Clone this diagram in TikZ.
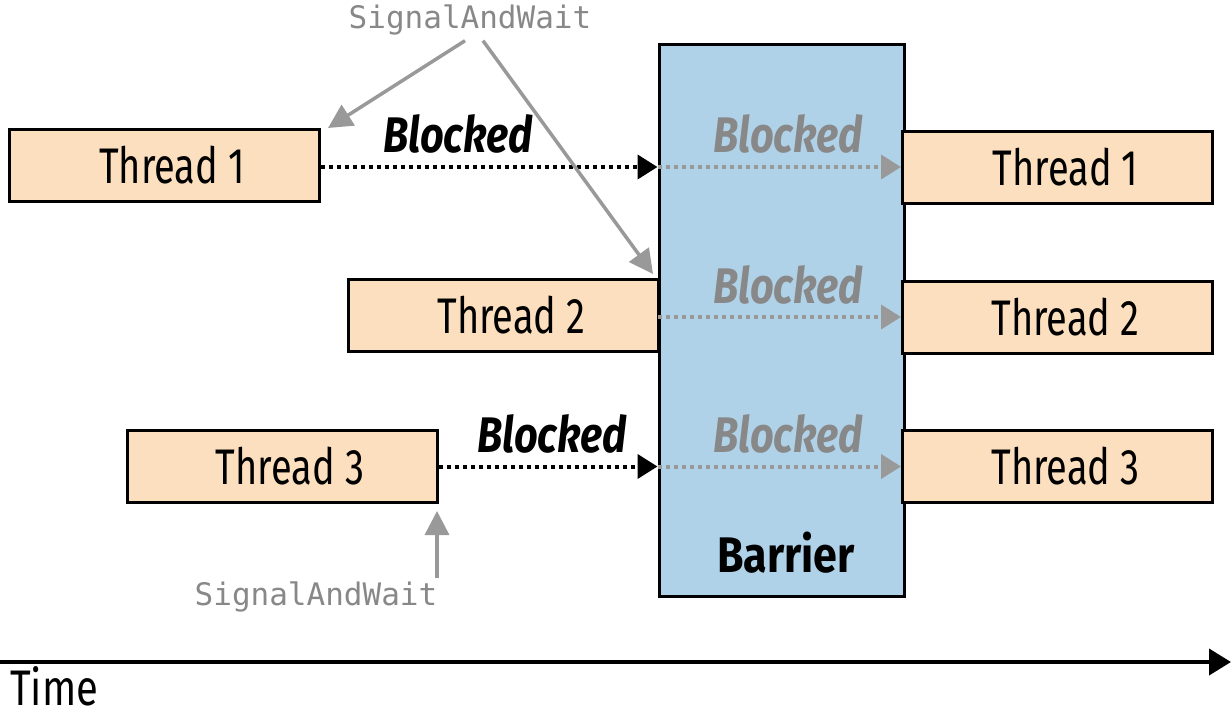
\documentclass[tikz,border=0pt]{standalone}
\usepackage{fontspec}
\setmainfont{Fira Sans}[FakeStretch=0.76,BoldFeatures={FakeStretch=0.86},BoldItalicFeatures={FakeStretch=0.83}]
\newfontfamily\monofam{DejaVu Sans Mono}
\usetikzlibrary{arrows.meta}
\definecolor{thr}{RGB}{252,223,190}
\definecolor{bar}{RGB}{176,210,232}
\definecolor{gtx}{RGB}{136,136,136}
\definecolor{garr}{RGB}{153,153,153}
\tikzset{
  thread/.style={draw=black,line width=3pt,fill=thr,minimum width=310pt,minimum height=72pt,inner sep=0pt,font=\fontsize{50}{50}\selectfont},
  blk/.style={font=\fontsize{50}{50}\selectfont\bfseries\itshape},
  gblk/.style={blk,text=gtx},
  blkdot/.style={draw=black,line width=4pt,dash pattern=on 4pt off 4pt,-{Triangle[length=20pt,width=24pt]}},
  grydot/.style={draw=garr,line width=4pt,dash pattern=on 4pt off 4pt,-{Triangle[length=20pt,width=24pt]}},
  sig/.style={text=gtx,font=\fontsize{31}{31}\monofam},
  sigarr/.style={draw=garr,line width=3.5pt,-{Triangle[length=24pt,width=24pt]}},
}
\newcommand{\thtxt}[1]{\hspace*{16pt}#1}
\begin{document}
\begin{tikzpicture}[x=1pt,y=-1pt]
\useasboundingbox (0,0) rectangle (1232,717);
% barrier
\node[draw=black,line width=3pt,fill=bar,minimum width=245pt,minimum height=551pt,inner sep=0pt] (barrier) at (781.5,320.5) {};
\node[font=\fontsize{50}{50}\selectfont\bfseries] (barlbl) at (786,553) {Barrier};
% threads left
\node[thread] (t1l) at (164,165) {\thtxt{Thread 1}};
\node[thread] (t2l) at (503.5,315.5) {\thtxt{Thread 2}};
\node[thread] (t3l) at (282,466.5) {\thtxt{Thread 3}};
% threads right
\node[thread] (t1r) at (1057.5,167) {\thtxt{Thread 1}};
\node[thread] (t2r) at (1057.5,317) {\thtxt{Thread 2}};
\node[thread] (t3r) at (1057.5,466.5) {\thtxt{Thread 3}};
% blocked labels
\node[blk] (b1) at (458,134) {Blocked};
\node[blk] (b3) at (552,434) {Blocked};
\node[gblk] (g1) at (788,134) {Blocked};
\node[gblk] (g2) at (788,285) {Blocked};
\node[gblk] (g3) at (788,434) {Blocked};
% arrows
\coordinate (e1) at (barrier.west |- t1r.west);
\coordinate (e2) at (barrier.west |- t2r.west);
\coordinate (e3) at (barrier.west |- t3r.west);
\draw[blkdot] (t1l.east |- e1) -- (e1);
\draw[blkdot] (t3l.east) -- (e3);
\draw[grydot] (e1) -- (t1r.west);
\draw[grydot] (e2) -- (t2r.west);
\draw[grydot] (e3) -- (t3r.west);
% signal and wait
\node[sig] (s1) at (470,20) {SignalAndWait};
\node[sig] (s2) at (316,597) {SignalAndWait};
\coordinate (a1) at (328,128);
\coordinate (a2) at (653,274);
\coordinate (a3) at (437,511);
\draw[sigarr] ([xshift=-5pt,yshift=-2pt]s1.south) -- (a1);
\draw[sigarr] ([xshift=13pt,yshift=-2pt]s1.south) -- (a2);
\draw[sigarr] (a3 |- s2.north) -- (a3);
% time axis
\coordinate (ts) at (0,662);
\coordinate (te) at (1231,662);
\draw[line width=4pt,-{Triangle[length=22pt,width=26pt]}] (ts) -- (te);
\node[anchor=west,font=\fontsize{50}{50}\selectfont\addfontfeature{FakeStretch=0.8},inner sep=0pt] (time) at (10,686) {Time};
\end{tikzpicture}
\end{document}
